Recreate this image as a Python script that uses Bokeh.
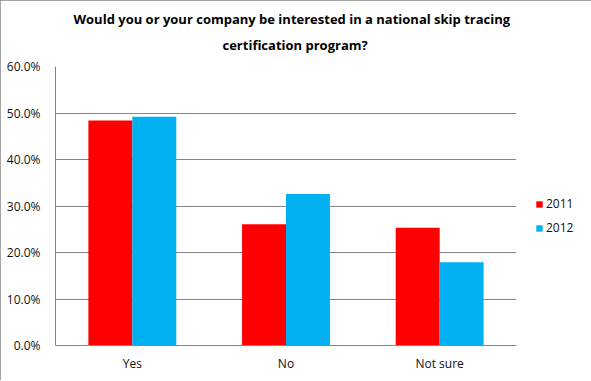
from bokeh.plotting import figure
from bokeh.models import ColumnDataSource, FactorRange, Legend, LegendItem, NumeralTickFormatter, FixedTicker, Title
from bokeh.transform import dodge
from bokeh.embed import file_html
from bokeh.resources import INLINE

categories = ["Yes", "No", "Not sure"]
series_2011 = [0.484, 0.261, 0.253]
series_2012 = [0.492, 0.326, 0.179]
y_ticks = [0.0, 0.1, 0.2, 0.3, 0.4, 0.5, 0.6]
title_lines = ["Would you or your company be interested in a national skip tracing",
               "certification program?"]

src = ColumnDataSource(dict(cat=categories, y2011=series_2011, y2012=series_2012))

p = figure(frame_width=461, frame_height=279, x_range=FactorRange(*categories), y_range=(0, 0.6),
           output_backend="svg", toolbar_location=None,
           min_border_left=55, min_border_right=74, min_border_top=66, min_border_bottom=35)
p.outline_line_color = None
p.background_fill_color = "white"
p.border_fill_color = "white"

def style_title(t, offset, standoff):
    t.align = "left"
    t.offset = offset
    t.standoff = standoff
    t.text_font = "Open Sans"
    t.text_font_style = "bold"
    t.text_font_size = "13px"
    t.text_color = "#000000"

p.title.text = title_lines[0]
style_title(p.title, 18, -14)
t2 = Title(text=title_lines[1])
style_title(t2, 167, 26)
p.add_layout(t2, "above")

bw = 0.286
r1 = p.vbar(x=dodge("cat", -bw / 2, range=p.x_range), top="y2011", width=bw, source=src,
            fill_color="#FF0000", line_color=None)
r2 = p.vbar(x=dodge("cat", bw / 2, range=p.x_range), top="y2012", width=bw, source=src,
            fill_color="#00B0F0", line_color=None)

p.yaxis.ticker = FixedTicker(ticks=y_ticks)
p.yaxis.formatter = NumeralTickFormatter(format="0.0%")
for ax in (p.xaxis[0], p.yaxis[0]):
    ax.axis_line_color = "#868686"
    ax.major_tick_line_color = None
    ax.minor_tick_line_color = None
    ax.major_label_text_font = "Open Sans"
    ax.major_label_text_font_size = "12px"
    ax.major_label_text_color = "#111111"
p.yaxis.major_label_standoff = 9
p.xaxis.major_label_standoff = 3
p.xgrid.grid_line_color = None
p.ygrid.grid_line_color = "#868686"
p.x_range.range_padding = 0

legend = Legend(items=[LegendItem(label="2011", renderers=[r1]),
                       LegendItem(label="2012", renderers=[r2])],
                location=(19, 109), border_line_color=None, background_fill_alpha=0,
                glyph_width=8, glyph_height=8, label_height=12, label_text_font="Open Sans",
                label_text_font_size="12px", label_text_color="#111111",
                spacing=7, padding=0, margin=0, label_standoff=3)
p.add_layout(legend, "right")

p.styles = {"outline": "1px solid #868686", "outline-offset": "-1px"}

open("out.html", "w").write(file_html(p, INLINE))
